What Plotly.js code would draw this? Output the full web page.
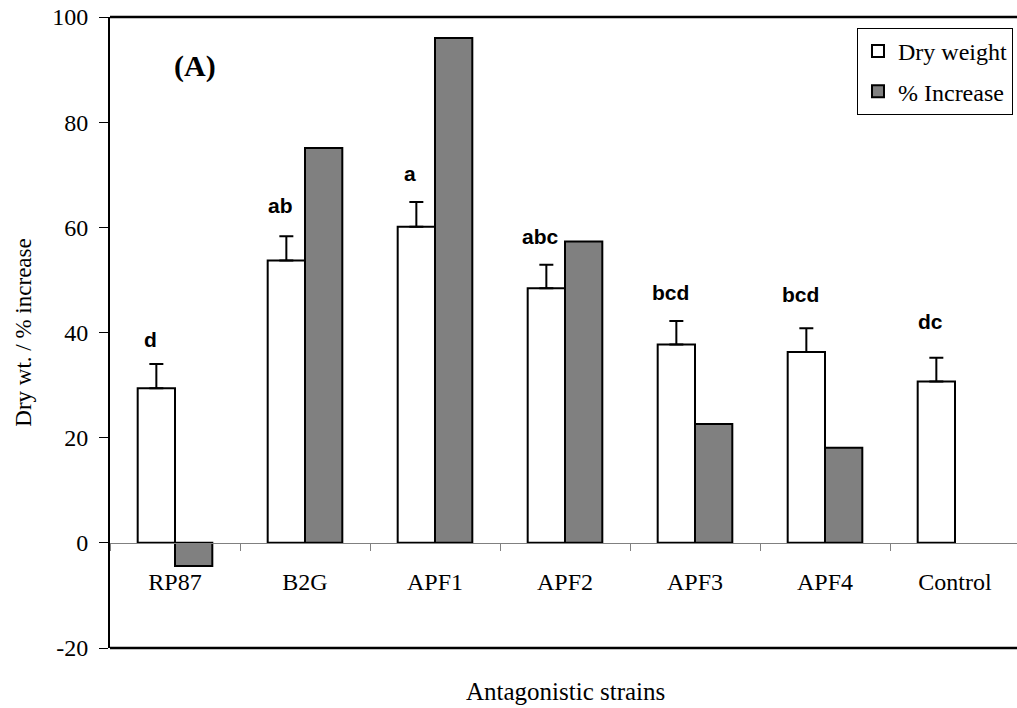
<!DOCTYPE html>
<html><head><meta charset="utf-8">
<script src="https://cdn.plot.ly/plotly-3.0.1.min.js"></script>
<style>html,body{margin:0;padding:0;overflow:hidden;background:#fff}</style>
</head><body>
<div id="chart" style="width:1020px;height:708px"></div>
<script>
const categories = ["RP87","B2G","APF1","APF2","APF3","APF4","Control"];
const dryWeight = [29.4, 53.7, 60.1, 48.4, 37.7, 36.3, 30.7];
const dryError = [4.6, 4.6, 4.7, 4.5, 4.5, 4.5, 4.5];
const pctIncrease = [-4.4, 75.1, 96.0, 57.3, 22.6, 18.1, null];
const sigLetters = ["d","ab","a","abc","bcd","bcd","dc"];
const sigLetterY = [37.0, 62.5, 68.6, 56.6, 46.0, 45.7, 40.4];
const yTicks = [-20, 0, 20, 40, 60, 80, 100];

const serif = "Liberation Serif, Times New Roman, serif";

const traces = [
  {type:"bar", name:"Dry weight", x:categories, y:dryWeight,
   marker:{color:"#ffffff", line:{color:"#000", width:2}},
   error_y:{type:"data", symmetric:false, array:dryError, arrayminus:dryError.map(()=>0),
            color:"#000", thickness:2, width:7},
   legendgroup:"g1"},
  {type:"bar", name:"% Increase", x:categories, y:pctIncrease,
   marker:{color:"#808080", line:{color:"#000", width:2}},
   legendgroup:"g2"}
];

const annotations = categories.map((c,i)=>({
  x:c, y:sigLetterY[i], xref:"x", yref:"y", text:"<b>"+sigLetters[i]+"</b>",
  showarrow:false, xanchor:"center", yanchor:"bottom", xshift:-25, yshift:-5,
  font:{family:"Liberation Sans, Arial, sans-serif", size:21, color:"#000"}
}));
annotations.push({xref:"paper", yref:"paper", x:0.5, y:-0.0697, xanchor:"center", yanchor:"middle",
  text:"Antagonistic strains", showarrow:false, font:{family:serif, size:25, color:"#000"}});
annotations.push({xref:"paper", yref:"paper", x:0.0934, y:0.923, xanchor:"center", yanchor:"middle",
  text:"<b>(A)</b>", showarrow:false, font:{family:serif, size:30, color:"#000"}});

const layout = {
  width:1020, height:708,
  margin:{l:110, r:0, t:17, b:60},
  paper_bgcolor:"#fff", plot_bgcolor:"#fff",
  barmode:"group", bargap:0.426, bargroupgap:0,
  showlegend:true,
  legend:{x:0.9923, y:0.9826, xanchor:"right", yanchor:"top",
          bgcolor:"#fff", bordercolor:"#000", borderwidth:1,
          font:{family:serif, size:24, color:"#000"},
          traceorder:"grouped", tracegroupgap:6, itemwidth:30},
  xaxis:{type:"category", anchor:"free", position:1/6,
         showline:true, linecolor:"#808080", linewidth:1,
         ticks:"outside", tickson:"boundaries", ticklen:7, tickcolor:"#808080",
         ticklabelstandoff:17,
         tickfont:{family:serif, size:24, color:"#000"},
         showgrid:false, zeroline:false},
  yaxis:{range:[-20,100], tickvals:yTicks, ticktext:yTicks.map(String),
         showline:true, linecolor:"#000", linewidth:2,
         ticks:"outside", ticklen:9, tickcolor:"#000",
         ticklabelstandoff:6,
         tickfont:{family:serif, size:24, color:"#000"},
         showgrid:false, zeroline:false,
         title:{text:"Dry wt. / % increase", standoff:14, font:{family:serif, size:23, color:"#000"}}},
  shapes:[
    {type:"line", xref:"paper", yref:"paper", x0:0, x1:1, y0:1, y1:1, line:{color:"#000", width:2.5}},
    {type:"line", xref:"paper", yref:"paper", x0:0, x1:1, y0:0, y1:0, line:{color:"#000", width:2.5}}
  ],
  annotations:annotations
};

Plotly.newPlot("chart", traces, layout, {displayModeBar:false, staticPlot:true});
</script>
</body></html>
